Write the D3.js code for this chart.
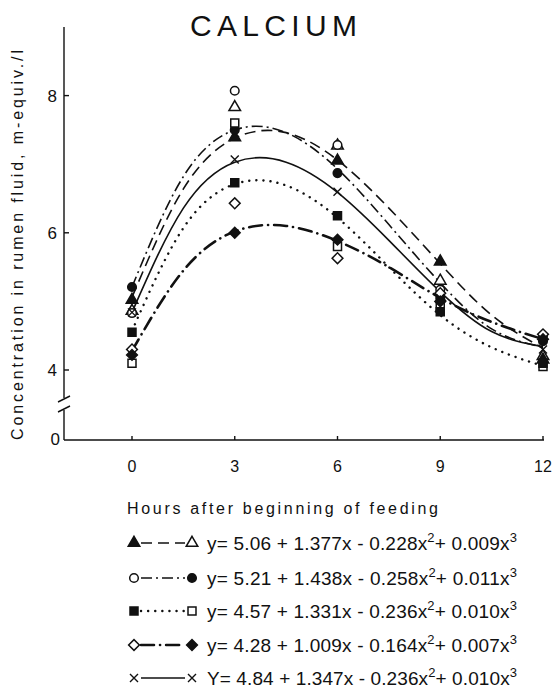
<!DOCTYPE html>
<html>
<head>
<meta charset="utf-8">
<script src="https://cdn.jsdelivr.net/npm/d3@7"></script>
<style>
  body { margin: 0; background: #fff; }
  text { font-family: "Liberation Sans", Arial, sans-serif; fill: #111; }
</style>
</head>
<body>
<svg id="chart" width="554" height="689"></svg>
<script>
// sampling times (hours after beginning of feeding)
const hours = [0, 3, 6, 9, 12];

const triangleFilled = [5.02, 7.39, 7.05, 5.58, 4.15];
const triangleOpen   = [4.86, 7.83, 7.27, 5.30, 4.20];
const circleOpen     = [4.83, 8.07, 7.28, 5.17, 4.50];
const circleFilled   = [5.21, 7.50, 6.87, 5.05, 4.42];
const squareFilled   = [4.55, 6.73, 6.25, 4.85, 4.10];
const squareOpen     = [4.10, 7.60, 5.80, 4.92, 4.05];
const diamondOpen    = [4.30, 6.43, 5.63, 5.12, 4.52];
const diamondFilled  = [4.22, 6.00, 5.90, 5.00, 4.45];
const crossMean      = [4.84, 7.07, 6.60, 5.05, 4.30];

// fitted curves as drawn, read at these hours
const curveHours    = [0, 1.5, 3, 4.5, 6, 7.5, 9, 10.5, 12];
const curveTriangle = [5.06, 6.64, 7.38, 7.46, 7.06, 6.36, 5.55, 4.80, 4.32];
const curveCircle   = [5.21, 6.82, 7.50, 7.46, 6.93, 6.12, 5.27, 4.60, 4.33];
const curveSquare   = [4.57, 6.07, 6.71, 6.69, 6.22, 5.50, 4.80, 4.33, 4.06];
const curveDiamond  = [4.28, 5.45, 6.02, 6.10, 5.88, 5.50, 5.05, 4.70, 4.45];
const curveCross    = [4.84, 6.36, 7.03, 7.03, 6.59, 5.89, 5.14, 4.56, 4.34];

const yTicks = [4, 6, 8];
const legendLabels = [
  ["y= 5.06 + 1.377x - 0.228x", "2", "+ 0.009x", "3"],
  ["y= 5.21 + 1.438x - 0.258x", "2", "+ 0.011x", "3"],
  ["y= 4.57 + 1.331x - 0.236x", "2", "+ 0.010x", "3"],
  ["y= 4.28 + 1.009x - 0.164x", "2", "+ 0.007x", "3"],
  ["Y= 4.84 + 1.347x - 0.236x", "2", "+ 0.010x", "3"]
];

const svg = d3.select("#chart");
const ink = "#111";

const x = d3.scaleLinear().domain([0, 12]).range([132, 543]);
const y = d3.scaleLinear().domain([4, 9]).range([370, 27]);
const axisX = 64, baseY = 440;

// title
svg.append("text").attr("x", 190).attr("y", 36)
  .attr("font-size", 30).attr("textLength", 167).attr("lengthAdjust", "spacing")
  .text("CALCIUM");

// y axis with break
const g = svg.append("g").attr("stroke", ink).attr("stroke-width", 1.4).attr("fill", "none");
g.append("line").attr("x1", axisX).attr("x2", axisX).attr("y1", 27).attr("y2", 398);
g.append("line").attr("x1", axisX).attr("x2", axisX).attr("y1", 410).attr("y2", baseY);
[399, 409].forEach(v => {
  g.append("line").attr("x1", axisX - 6).attr("y1", v + 3).attr("x2", axisX + 6).attr("y2", v - 3);
});
g.append("line").attr("x1", axisX).attr("x2", 544).attr("y1", baseY).attr("y2", baseY);

yTicks.forEach(t => {
  g.append("line").attr("x1", axisX).attr("x2", axisX + 5).attr("y1", y(t)).attr("y2", y(t));
  svg.append("text").attr("x", 57).attr("y", y(t) + 6).attr("text-anchor", "end")
    .attr("font-size", 17).text(t);
});
svg.append("text").attr("x", 60).attr("y", baseY + 5).attr("text-anchor", "end")
  .attr("font-size", 17).text(0);

hours.forEach(h => {
  g.append("line").attr("x1", x(h)).attr("x2", x(h)).attr("y1", baseY).attr("y2", baseY - 4);
  svg.append("text").attr("x", x(h)).attr("y", 472).attr("text-anchor", "middle")
    .attr("font-size", 16).text(h);
});

svg.append("text").attr("x", 127).attr("y", 514).attr("font-size", 16)
  .attr("textLength", 311).attr("lengthAdjust", "spacing")
  .text("Hours after beginning of feeding");

svg.append("text").attr("transform", "translate(23,440) rotate(-90)")
  .attr("font-size", 16).attr("textLength", 390).attr("lengthAdjust", "spacing")
  .text("Concentration in rumen fluid, m-equiv./l");

// fitted curves
const series = [
  { vals: curveTriangle, dash: "11,6", width: 1.6, cap: "butt" },
  { vals: curveCircle, dash: "11,4,2,4", width: 1.6, cap: "butt" },
  { vals: curveSquare, dash: "0.1,7", width: 2.4, cap: "round" },
  { vals: curveDiamond, dash: "13,6,0.1,6", width: 2.6, cap: "round" },
  { vals: curveCross, dash: null, width: 1.6, cap: "butt" }
];

const line = d3.line()
  .x((d, i) => x(curveHours[i]))
  .y(d => y(d))
  .curve(d3.curveNatural);

series.forEach(s => {
  svg.append("path")
    .attr("d", line(s.vals))
    .attr("fill", "none").attr("stroke", ink)
    .attr("stroke-width", s.width)
    .attr("stroke-linecap", s.cap)
    .attr("stroke-dasharray", s.dash);
});

// markers
function marker(sel, shape, filled, cx, cy) {
  if (shape === "cross") {
    sel.append("path")
      .attr("d", `M${cx - 4},${cy - 4}L${cx + 4},${cy + 4}M${cx - 4},${cy + 4}L${cx + 4},${cy - 4}`)
      .attr("stroke", ink).attr("stroke-width", 1.4).attr("fill", "none");
    return;
  }
  const types = { triangle: d3.symbolTriangle, circle: d3.symbolCircle, square: d3.symbolSquare, diamond: d3.symbolSquare };
  const sizes = { triangle: 58, circle: 58, square: 64, diamond: 58 };
  sel.append("path")
    .attr("d", d3.symbol().type(types[shape]).size(sizes[shape])())
    .attr("transform", `translate(${cx},${cy})` + (shape === "diamond" ? " rotate(45)" : ""))
    .attr("fill", filled ? ink : "#fff")
    .attr("stroke", ink).attr("stroke-width", 1.5);
}

const pointSets = [
  { vals: triangleOpen, shape: "triangle", filled: false },
  { vals: triangleFilled, shape: "triangle", filled: true },
  { vals: circleOpen, shape: "circle", filled: false },
  { vals: circleFilled, shape: "circle", filled: true },
  { vals: squareOpen, shape: "square", filled: false },
  { vals: squareFilled, shape: "square", filled: true },
  { vals: diamondOpen, shape: "diamond", filled: false },
  { vals: diamondFilled, shape: "diamond", filled: true },
  { vals: crossMean, shape: "cross", filled: false }
];
const pg = svg.append("g");
pointSets.forEach(p => {
  p.vals.forEach((v, i) => marker(pg, p.shape, p.filled, x(hours[i]), y(v)));
});

// legend
const legendRows = [
  { y: 543, left: ["triangle", true], right: ["triangle", false], s: series[0] },
  { y: 578, left: ["circle", false], right: ["circle", true], s: series[1] },
  { y: 611, left: ["square", true], right: ["square", false], s: series[2] },
  { y: 645, left: ["diamond", false], right: ["diamond", true], s: series[3] },
  { y: 678, left: ["cross", false], right: ["cross", false], s: series[4] }
];
const lg = svg.append("g");
legendRows.forEach((r, i) => {
  lg.append("line").attr("x1", 141).attr("x2", 185).attr("y1", r.y).attr("y2", r.y)
    .attr("stroke", ink).attr("stroke-width", r.s.width)
    .attr("stroke-linecap", r.s.cap).attr("stroke-dasharray", r.s.dash);
  marker(lg, r.left[0], r.left[1], 134, r.y);
  marker(lg, r.right[0], r.right[1], 192, r.y);
  const lab = legendLabels[i];
  const t = lg.append("text").attr("x", 207).attr("y", r.y + 7).attr("font-size", 19)
    .attr("textLength", 310).attr("lengthAdjust", "spacing");
  t.append("tspan").text(lab[0]);
  t.append("tspan").attr("dy", -8).attr("font-size", 13).text(lab[1]);
  t.append("tspan").attr("dy", 8).text(lab[2]);
  t.append("tspan").attr("dy", -8).attr("font-size", 13).text(lab[3]);
});
</script>
</body>
</html>
